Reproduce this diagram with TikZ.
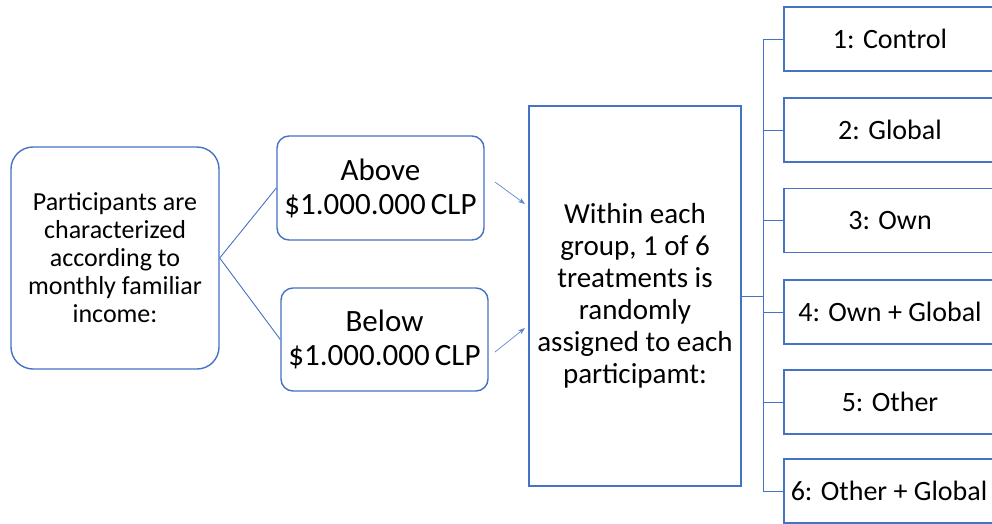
\documentclass[tikz,border=0pt]{standalone}
\usepackage{fontspec}
\setmainfont{Carlito}
\usetikzlibrary{arrows.meta}
\definecolor{boxblue}{HTML}{4472C4}
\definecolor{arrowblue}{HTML}{5B87D0}
\begin{document}
\begin{tikzpicture}[x=1pt,y=-1pt,
  rbox/.style={draw=boxblue, line width=1.4pt, rounded corners=#1, inner sep=0pt, align=center, text=black},
  sbox/.style={draw=boxblue, line width=1.4pt, inner sep=0pt, align=center, text=black},
  conn/.style={draw=boxblue, line width=0.9pt},
  tarrow/.style={draw=arrowblue, line width=0.7pt, -{Stealth[length=7pt,width=5pt]}},
  lbl/.style={font=\fontsize{28}{32}\selectfont, inner sep=0pt}]
\useasboundingbox (0,0) rectangle (992,523);
\node[rbox=22pt, minimum width=208pt, minimum height=222pt, font=\fontsize{26}{28}\selectfont] (left) at (115,258)
  {Participants are\\characterized\\according to\\monthly familiar\\income:};
\node[rbox=12pt, minimum width=207pt, minimum height=104pt, font=\fontsize{31}{34}\selectfont] (above) at (380.5,188)
  {Above\\\$1.000.000\,CLP};
\node[rbox=12pt, minimum width=207pt, minimum height=103pt, font=\fontsize{31}{34}\selectfont] (below) at (384.5,339.5)
  {Below\\\$1.000.000\,CLP};
\node[sbox, minimum width=212pt, minimum height=380pt, font=\fontsize{29}{32}\selectfont] (center) at (635,296)
  {Within each\\group, 1 of 6\\treatments is\\randomly\\assigned to each\\participamt:};
\foreach \n/\y in {t1/39, t2/130, t3/220.5, t4/312, t5/402, t6/491} {
  \node[sbox, minimum width=216pt, minimum height=64pt] (\n) at (892,\y) {};
}
\node[lbl] (l1) at (890,39) {1: Control};
\node[lbl] (l2) at (890,130) {2: Global};
\node[lbl] (l3) at (890,220.5) {3: Own};
\node[lbl] (l4) at (890,312) {4: Own + Global};
\node[lbl] (l5) at (890,402) {5: Other};
\node[lbl] (l6) at (889,491) {6: Other + Global};
\draw[conn] (left.east) -- (above.west);
\draw[conn] (left.east) -- (below.west);
\coordinate (a1s) at (495,182);
\coordinate (a1e) at (525,204);
\coordinate (a2s) at (495,352);
\coordinate (a2e) at (525,328);
\draw[tarrow] (a1s) -- (a1e);
\draw[tarrow] (a2s) -- (a2e);
\coordinate (bus) at (764,296);
\draw[conn] (center.east) -- (bus);
\draw[conn] (t1.west) -- ++(-20,0) |- (t6.west);
\foreach \n in {t2,t3,t4,t5} \draw[conn] (\n.west) -- ++(-20,0);
\end{tikzpicture}
\end{document}
